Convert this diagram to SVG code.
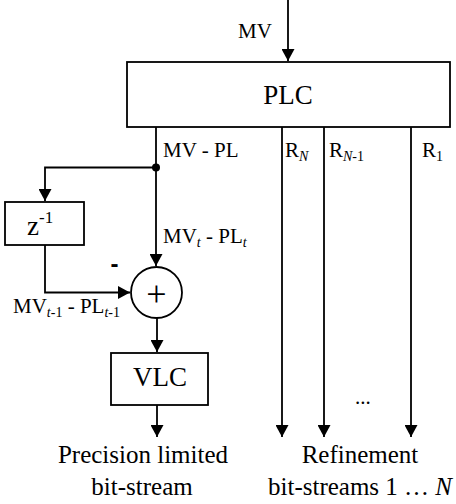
<svg xmlns="http://www.w3.org/2000/svg" width="456" height="504" viewBox="0 0 456 504">
<style>
  .box { fill: #fff; stroke: #000; stroke-width: 1.8; }
  .ln { fill: none; stroke: #000; stroke-width: 1.8; }
  text { font-family: "Liberation Serif", "Times New Roman", serif; fill: #000; }
  .big { font-size: 27px; }
  .lbl { font-size: 21px; }
  .out { font-size: 25px; }
  .sub { font-size: 14px; }
</style>
<defs>
  <marker id="arr" viewBox="0 0 12 13" refX="12" refY="6.5" markerWidth="12" markerHeight="13" markerUnits="userSpaceOnUse" orient="auto">
    <path d="M0,0 L12,6.5 L0,13 z" fill="#000"/>
  </marker>
</defs>
<rect width="456" height="504" fill="#fff"/>

<g id="connectors">
  <line class="ln" x1="288" y1="0" x2="288" y2="61" marker-end="url(#arr)"/>
  <line class="ln" x1="156" y1="127" x2="156" y2="266" marker-end="url(#arr)"/>
  <polyline class="ln" points="156,167.5 45,167.5 45,201" marker-end="url(#arr)"/>
  <polyline class="ln" points="45,245 45,292.5 130,292.5" marker-end="url(#arr)"/>
  <line class="ln" x1="157" y1="318" x2="157" y2="352" marker-end="url(#arr)"/>
  <line class="ln" x1="157" y1="405" x2="157" y2="437" marker-end="url(#arr)"/>
  <line class="ln" x1="282" y1="127" x2="282" y2="437" marker-end="url(#arr)"/>
  <line class="ln" x1="324" y1="127" x2="324" y2="437" marker-end="url(#arr)"/>
  <line class="ln" x1="411" y1="127" x2="411" y2="437" marker-end="url(#arr)"/>
  <circle cx="156" cy="167.5" r="4" fill="#000"/>
  <text class="lbl" x="238" y="38">MV</text>
  <text class="lbl" x="163" y="157">MV - PL</text>
  <text class="lbl" x="285" y="157">R<tspan class="sub" font-style="italic" dy="4">N</tspan></text>
  <text class="lbl" x="329" y="157">R<tspan class="sub" dy="4"><tspan font-style="italic">N</tspan>-1</tspan></text>
  <text class="lbl" x="422" y="157">R<tspan class="sub" dy="4">1</tspan></text>
  <text class="lbl" x="163" y="243">MV<tspan class="sub" font-style="italic" dy="4">t</tspan><tspan dy="-4"> - PL</tspan><tspan class="sub" font-style="italic" dy="4">t</tspan></text>
  <text class="lbl" x="13" y="313">MV<tspan class="sub" dy="4"><tspan font-style="italic">t</tspan>-1</tspan><tspan dy="-4"> - PL</tspan><tspan class="sub" dy="4"><tspan font-style="italic">t</tspan>-1</tspan></text>
  <text x="114.5" y="272" font-size="24" font-weight="bold" text-anchor="middle" style="font-family:'Liberation Sans', Arial, sans-serif">-</text>
  <text class="lbl" x="355" y="404">...</text>
</g>

<g id="plc">
  <rect class="box" x="127" y="62" width="323" height="65"/>
  <text class="big" x="288" y="104" text-anchor="middle">PLC</text>
</g>

<g id="delay">
  <rect class="box" x="5" y="202" width="79" height="43"/>
  <text class="big" x="27" y="235">z<tspan font-size="17" dy="-12">-1</tspan></text>
</g>

<g id="adder">
  <circle class="box" cx="156.5" cy="292.5" r="25.5"/>
  <text x="156.5" y="306" font-size="36" text-anchor="middle">+</text>
</g>

<g id="vlc">
  <rect class="box" x="111" y="353" width="97" height="52"/>
  <text class="big" x="160" y="386" text-anchor="middle">VLC</text>
</g>

<g id="out-precision">
  <text class="out" x="143" y="463" text-anchor="middle">Precision limited</text>
  <text class="out" x="142" y="495" text-anchor="middle">bit-stream</text>
</g>

<g id="out-refinement">
  <text class="out" x="360" y="463" text-anchor="middle">Refinement</text>
  <text class="out" x="360" y="495" text-anchor="middle">bit-streams 1 … <tspan font-style="italic">N</tspan></text>
</g>
</svg>
